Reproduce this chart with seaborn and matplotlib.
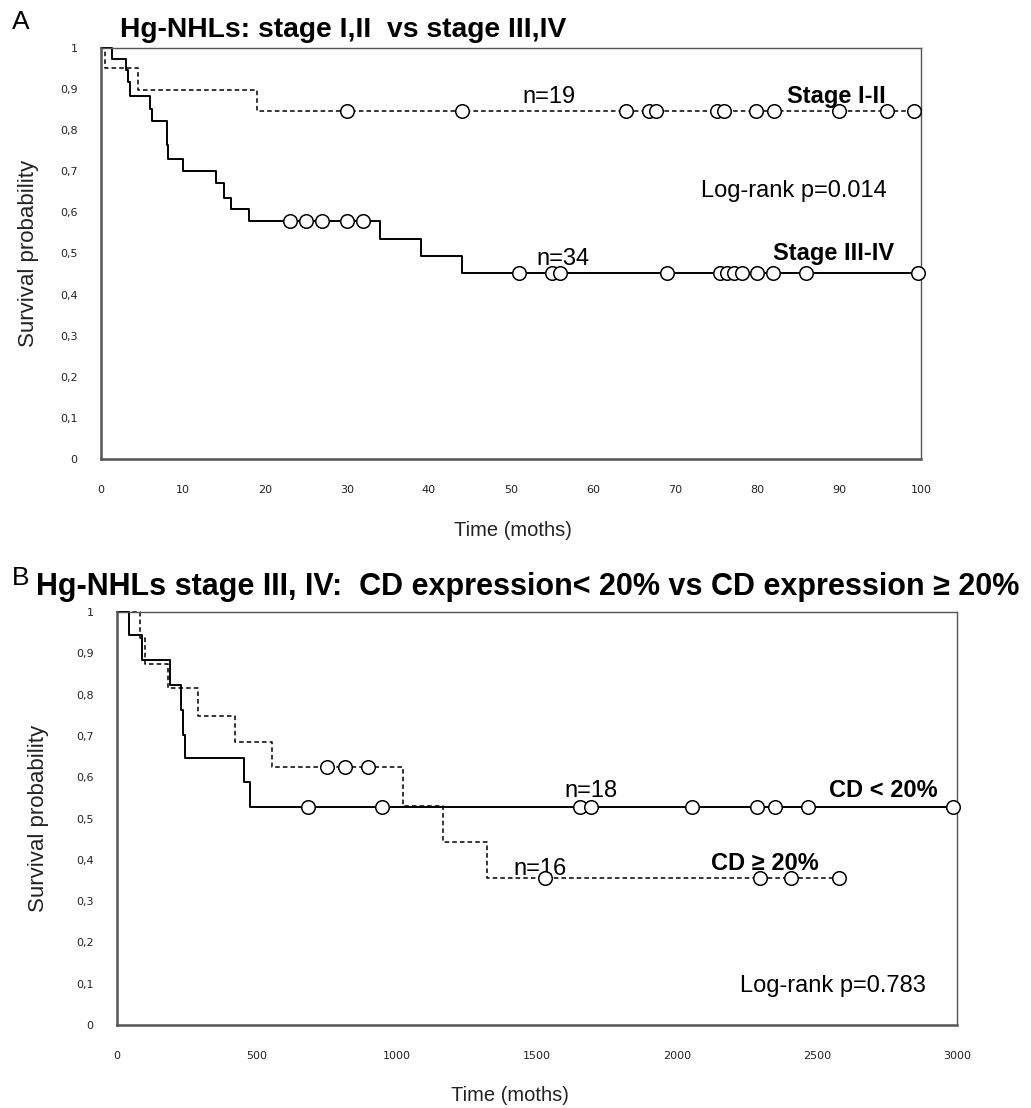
import numpy as np
import pandas as pd
import matplotlib
matplotlib.use("Agg")
import matplotlib.pyplot as plt
import seaborn as sns

# ---------------- data ----------------
# Panel A: Stage III-IV (solid)
a_solid_t = [0, 1.4, 3.0, 3.25, 3.5, 6.0, 6.2, 8.0, 8.2, 10, 14, 15, 15.8, 18, 34, 39, 44, 100]
a_solid_s = [1.0, 0.973, 0.947, 0.918, 0.882, 0.851, 0.822, 0.763, 0.729, 0.701, 0.671,
             0.636, 0.609, 0.579, 0.535, 0.495, 0.453, 0.453]
a_solid_cens = [23, 25, 27, 30, 32, 51, 55, 56, 69, 75.5, 76.3, 77.2, 78.2, 80, 82, 86, 99.6]
# Panel A: Stage I-II (dashed)
a_dash_t = [0, 0.5, 4.5, 19, 99.2]
a_dash_s = [1.0, 0.952, 0.897, 0.846, 0.846]
a_dash_cens = [30, 44, 64, 66.8, 67.7, 75.1, 76.0, 79.9, 82.1, 90, 95.9, 99.1]

# Panel B: CD < 20% (solid)
b_solid_t = [0, 44, 90, 189, 229, 235, 243, 455, 475, 3000]
b_solid_s = [1.0, 0.944, 0.884, 0.823, 0.763, 0.702, 0.647, 0.589, 0.527, 0.527]
b_solid_cens = [683, 945, 1654, 1692, 2052, 2287, 2351, 2469, 2985]
# Panel B: CD >= 20% (dashed)
b_dash_t = [0, 82, 100, 183, 290, 421, 552, 1020, 1166, 1323, 2580]
b_dash_s = [1.0, 0.937, 0.874, 0.815, 0.749, 0.685, 0.624, 0.530, 0.444, 0.357, 0.357]
b_dash_cens = [749, 814, 898, 1529, 2296, 2407, 2580]

y_ticks = [0, 0.1, 0.2, 0.3, 0.4, 0.5, 0.6, 0.7, 0.8, 0.9, 1.0]
y_tick_labels = ["0", "0,1", "0,2", "0,3", "0,4", "0,5", "0,6", "0,7", "0,8", "0,9", "1"]
a_x_ticks = [0, 10, 20, 30, 40, 50, 60, 70, 80, 90, 100]
b_x_ticks = [0, 500, 1000, 1500, 2000, 2500, 3000]

title_a = "Hg-NHLs: stage I,II  vs stage III,IV"
title_b = "Hg-NHLs stage III, IV:  CD expression< 20% vs CD expression \u2265 20%"

# ---------------- style ----------------
sns.set_style("white")
plt.rcParams['font.family'] = ['Liberation Sans', 'DejaVu Sans']
plt.rcParams['text.color'] = 'black'

W, H = 1031, 1108
fig = plt.figure(figsize=(W / 100, H / 100), dpi=100)

def px_axes(l, t, r, b):
    return fig.add_axes([l / W, 1 - b / H, (r - l) / W, (b - t) / H])

axA = px_axes(101, 48, 921, 459)
axB = px_axes(117, 612, 957, 1025)


def surv_at(t_arr, s_arr, times):
    idx = np.searchsorted(np.asarray(t_arr), np.asarray(times), side='right') - 1
    return np.asarray(s_arr)[idx]


def draw_curve(ax, t, s, cens, dashed):
    df = pd.DataFrame({'t': t, 's': s})
    sns.lineplot(data=df, x='t', y='s', ax=ax, drawstyle='steps-post', color='black',
                 lw=1.1 if dashed else 1.4, estimator=None, sort=False, clip_on=False)
    if dashed:
        ax.lines[-1].set_dashes([3, 2])
    cdf = pd.DataFrame({'t': cens, 's': surv_at(t, s, cens)})
    sns.scatterplot(data=cdf, x='t', y='s', ax=ax, marker='o', s=95, color='white',
                    edgecolor='black', linewidth=1.1, zorder=5, clip_on=False)


def style_axes(ax, xticks, xmax):
    ax.set_xlim(0, xmax)
    ax.set_ylim(0, 1)
    ax.set_xticks(xticks)
    ax.set_xticklabels([str(v) for v in xticks])
    ax.set_yticks(y_ticks)
    ax.set_yticklabels(y_tick_labels)
    ax.tick_params(axis='both', direction='inout', length=10, width=1.2, color='#555555',
                   labelsize=8, labelcolor='#222222')
    ax.tick_params(axis='x', pad=14)
    ax.tick_params(axis='y', pad=12)
    for lab in ax.get_xticklabels() + ax.get_yticklabels():
        lab.set_fontfamily('DejaVu Sans')
    for side in ['left', 'bottom']:
        ax.spines[side].set_color('#555555')
        ax.spines[side].set_linewidth(1.8)
    for side in ['top', 'right']:
        ax.spines[side].set_color('#555555')
        ax.spines[side].set_linewidth(1.0)
    ax.set_ylabel("Survival probability", fontsize=16, color='#222222')
    ax.set_xlabel("Time (moths)", fontsize=14.5, color='#222222')
    ax.xaxis.label.set_va('center')
    ax.yaxis.label.set_va('center')


# ---------------- panel A ----------------
draw_curve(axA, a_dash_t, a_dash_s, a_dash_cens, dashed=True)
draw_curve(axA, a_solid_t, a_solid_s, a_solid_cens, dashed=False)
style_axes(axA, a_x_ticks, 100)
axA.xaxis.set_label_coords(0.502, -0.173)
axA.yaxis.set_label_coords(-0.089, 0.5)

axA.text(54.6, 0.866, "n=19", ha='center', va='baseline', fontsize=17)
axA.text(89.7, 0.866, "Stage I-II", ha='center', va='baseline', fontsize=17, fontweight='bold')
axA.text(84.5, 0.638, "Log-rank p=0.014", ha='center', va='baseline', fontsize=17)
axA.text(56.4, 0.472, "n=34", ha='center', va='baseline', fontsize=17)
axA.text(89.3, 0.484, "Stage III-IV", ha='center', va='baseline', fontsize=17, fontweight='bold')

# ---------------- panel B ----------------
draw_curve(axB, b_dash_t, b_dash_s, b_dash_cens, dashed=True)
draw_curve(axB, b_solid_t, b_solid_s, b_solid_cens, dashed=False)
style_axes(axB, b_x_ticks, 3000)
axB.xaxis.set_label_coords(0.468, -0.17)
axB.yaxis.set_label_coords(-0.094, 0.5)

axB.text(1692, 0.552, "n=18", ha='center', va='baseline', fontsize=17)
axB.text(2736, 0.552, "CD < 20%", ha='center', va='baseline', fontsize=17, fontweight='bold')
axB.text(1511, 0.363, "n=16", ha='center', va='baseline', fontsize=17)
axB.text(2314, 0.375, "CD \u2265 20%", ha='center', va='baseline', fontsize=17, fontweight='bold')
axB.text(2557, 0.08, "Log-rank p=0.783", ha='center', va='baseline', fontsize=17)

# ---------------- titles / panel letters ----------------
fig.text(120 / W, 1 - 37 / H, title_a, ha='left', va='baseline', fontsize=20.3, fontweight='bold')
fig.text(36 / W, 1 - 595 / H, title_b, ha='left', va='baseline', fontsize=22, fontweight='bold')
fig.text(12 / W, 1 - 29 / H, "A", ha='left', va='baseline', fontsize=19)
fig.text(12 / W, 1 - 585 / H, "B", ha='left', va='baseline', fontsize=19)

fig.savefig("out.png", dpi=100)
